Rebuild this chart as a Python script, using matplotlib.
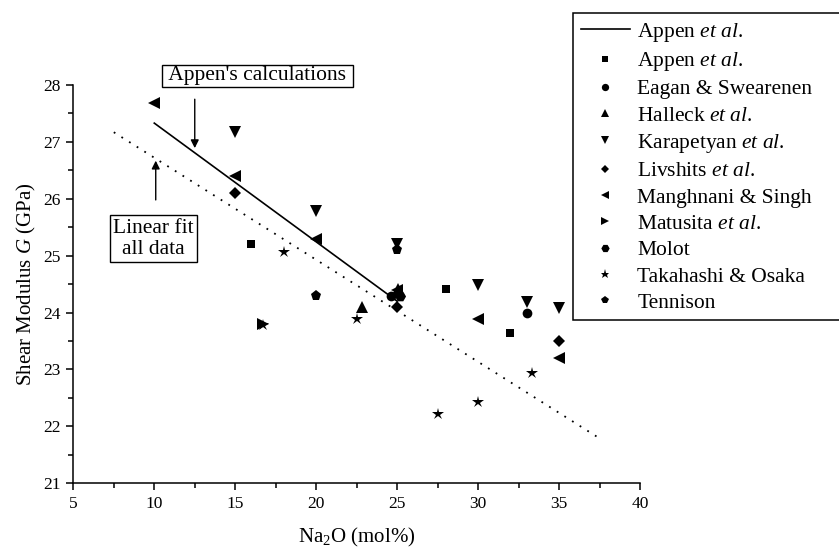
import matplotlib
matplotlib.use("Agg")
import matplotlib.pyplot as plt
from matplotlib.ticker import MultipleLocator

# line data
appen_line_x = [10, 25]
appen_line_y = [27.33, 24.2]
fit_x = [7.5, 37.5]
fit_y = [27.17, 21.79]

# measured data per source
appen_x = [16, 28, 32]
appen_y = [25.2, 24.42, 23.64]
eagan_x = [24.6, 33]
eagan_y = [24.3, 24.0]
halleck_x = [22.8, 25.05]
halleck_y = [24.1, 24.42]
karap_x = [15, 20, 25, 30, 33, 35]
karap_y = [27.17, 25.78, 25.2, 24.48, 24.19, 24.08]
livshits_x = [15, 25, 35]
livshits_y = [26.1, 24.1, 23.5]
mangh_x = [10, 15, 20, 25, 30, 35]
mangh_y = [27.69, 26.4, 25.3, 24.39, 23.89, 23.21]
matusita_x = [16.7]
matusita_y = [23.8]
molot_x = [25.2]
molot_y = [24.3]
takahashi_x = [16.7, 18, 22.5, 27.5, 30, 33.3]
takahashi_y = [23.79, 25.06, 23.88, 22.22, 22.43, 22.93]
tennison_x = [20, 25]
tennison_y = [24.3, 25.1]

plt.rcParams["font.family"] = ["Liberation Serif", "DejaVu Serif"]
plt.rcParams["mathtext.fontset"] = "custom"
plt.rcParams["mathtext.rm"] = "Liberation Serif"
plt.rcParams["mathtext.it"] = "Liberation Serif:italic"

fig = plt.figure(figsize=(8.39, 5.48), dpi=100)
ax = fig.add_axes([0.0874, 0.1181, 0.6754, 0.7268])

ax.plot(appen_line_x, appen_line_y, color="black", lw=1.2, label=r"Appen $\mathit{et\ al}$.")
ax.plot(fit_x, fit_y, color="black", lw=1.3, linestyle=(0, (1, 4)))

series = [
    (appen_x, appen_y, "s", 6, r"Appen $\mathit{et\ al}$."),
    (eagan_x, eagan_y, "o", 7, "Eagan & Swearenen"),
    (halleck_x, halleck_y, "^", 8, r"Halleck $\mathit{et\ al}$."),
    (karap_x, karap_y, "v", 8, r"Karapetyan $\mathit{et\ al}$."),
    (livshits_x, livshits_y, "D", 6, r"Livshits $\mathit{et\ al}$."),
    (mangh_x, mangh_y, "<", 8, "Manghnani & Singh"),
    (matusita_x, matusita_y, ">", 8, r"Matusita $\mathit{et\ al}$."),
    (molot_x, molot_y, "H", 8, "Molot"),
    (takahashi_x, takahashi_y, "*", 9, "Takahashi & Osaka"),
    (tennison_x, tennison_y, "p", 8, "Tennison"),
]
for xs, ys, m, ms, lab in series:
    ax.plot(xs, ys, linestyle="none", marker=m, markersize=ms,
            color="black", markeredgewidth=0, label=lab, clip_on=False)

ax.set_xlim(5, 40)
ax.set_ylim(21, 28)
ax.xaxis.set_major_locator(MultipleLocator(5))
ax.xaxis.set_minor_locator(MultipleLocator(2.5))
ax.yaxis.set_major_locator(MultipleLocator(1))
ax.yaxis.set_minor_locator(MultipleLocator(0.5))
ax.spines["top"].set_visible(False)
ax.spines["right"].set_visible(False)
for s in ("left", "bottom"):
    ax.spines[s].set_linewidth(1.1)
ax.tick_params(which="major", direction="out", length=5, width=1.1, labelsize=12.5, pad=4)
ax.tick_params(which="minor", direction="out", length=3.5, width=1.1)

ax.set_xlabel(r"Na$_2$O (mol%)", fontsize=15, labelpad=10)
ax.set_ylabel(r"Shear Modulus $\mathit{G}$ (GPa)", fontsize=15, labelpad=4)

# annotations
ax.text(16.38, 28.16, " Appen's calculations ", fontsize=15.5, ha="center", va="center",
        bbox=dict(boxstyle="square,pad=0.08", facecolor="white", edgecolor="black", lw=1),
        clip_on=False)
ax.annotate("", xy=(12.5, 26.89), xytext=(12.5, 27.75), annotation_clip=False,
            arrowprops=dict(arrowstyle="-|>", color="black", lw=1, mutation_scale=12,
                            shrinkA=0, shrinkB=0))
ax.text(9.94, 25.3, "Linear fit\nall data", fontsize=15.5, ha="center", va="center",
        multialignment="center", linespacing=1.15,
        bbox=dict(boxstyle="square,pad=0.15", facecolor="white", edgecolor="black", lw=1))
ax.annotate("", xy=(10.09, 26.67), xytext=(10.09, 25.98),
            arrowprops=dict(arrowstyle="-|>", color="black", lw=1, mutation_scale=12,
                            shrinkA=0, shrinkB=0))

leg = ax.legend(loc="upper left", bbox_to_anchor=(0.683, 0.0, 0.32, 0.9757),
                bbox_transform=fig.transFigure, mode="expand",
                fontsize=15.5, numpoints=1, markerscale=0.75, handlelength=2.3, handletextpad=0.33,
                labelspacing=0.29, borderpad=0.35, borderaxespad=0, fancybox=False,
                framealpha=1, edgecolor="black")
leg.get_frame().set_linewidth(1.1)

fig.savefig("out.png", dpi=100)
